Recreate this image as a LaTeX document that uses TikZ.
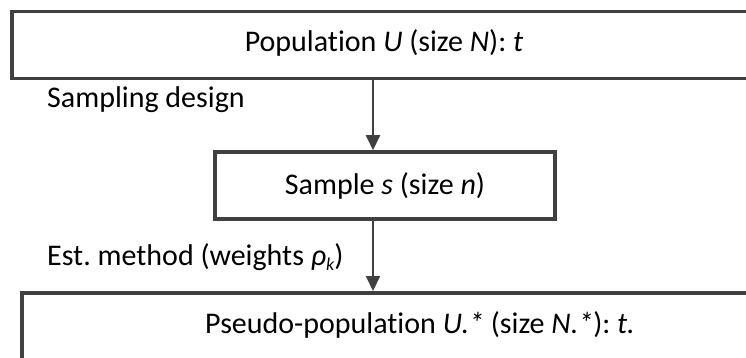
\documentclass[tikz,border=0pt]{standalone}
\usepackage{fontspec}
\setmainfont{Carlito}[Ligatures={NoCommon}]
\usetikzlibrary{arrows.meta}
\definecolor{lineC}{HTML}{404040}
\frenchspacing
\begin{document}
\begin{tikzpicture}[x=1pt,y=-1pt,
  frame/.style={draw=lineC, line width=3.5pt, fill=white, inner sep=0pt},
  lbl/.style={inner sep=0pt, font=\fontsize{30}{36}\selectfont},
  arr/.style={draw=lineC, line width=2pt, -{Triangle[length=15pt,width=14pt]}}]
\useasboundingbox (0,0) rectangle (746,358);
\clip (0,0) rectangle (746,358);
% boxes
\node[frame, minimum width=800pt, minimum height=67pt, anchor=north west] (top) at (10,10) {};
\node[frame, minimum width=340pt, minimum height=67pt, lbl, inner sep=0pt] (mid) at (385,185.5) {Sample \textit{s} (size \textit{n})};
\node[frame, minimum width=800pt, minimum height=120pt, anchor=north west] (bot) at (20,291) {};
% texts
\node[lbl] (ttop) at (384,43) {Population \textit{U} (size \textit{N}): \textit{t}};
\node[lbl, anchor=west] (tsd) at (47,100) {Sampling design};
\node[lbl, anchor=west] (tem) at (47,257) {Est. method (weights \textit{ρ}\raisebox{-0.35ex}{\fontsize{18}{20}\selectfont\textit{k}})};
\node[lbl] (tbot) at (420,325) {Pseudo-population \textit{U.*} (size \textit{N.*}): \textit{t.}};
% arrows
\coordinate (ax) at (373,0);
\draw[arr] (top.south -| ax) -- (mid.north -| ax);
\draw[arr] (mid.south -| ax) -- (bot.north -| ax);
\end{tikzpicture}
\end{document}
